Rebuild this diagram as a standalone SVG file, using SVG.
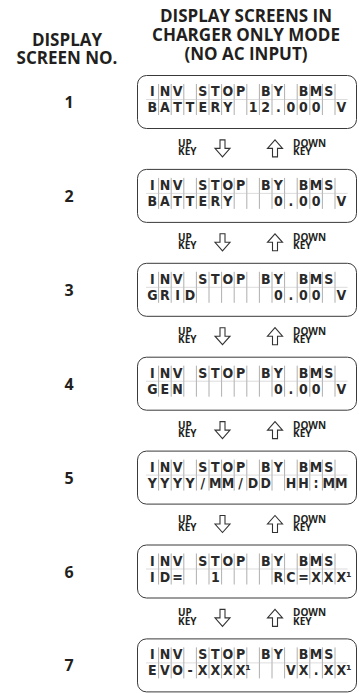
<svg xmlns="http://www.w3.org/2000/svg" xmlns:xlink="http://www.w3.org/1999/xlink" width="359" height="693" viewBox="0 0 359 693">
<style>
.hdr{font-family:"Open Sans","Liberation Sans",sans-serif;font-weight:bold;font-size:17px;fill:#231f20;text-anchor:middle}
.num{font-family:"Open Sans","Liberation Sans",sans-serif;font-weight:bold;font-size:16px;fill:#231f20;text-anchor:middle}
.lcd{font-family:"Liberation Sans Narrow","DejaVu Sans Condensed","Liberation Sans",sans-serif;font-weight:bold;font-size:14px;fill:#2a2a2a;text-anchor:middle}
.key{font-family:"Open Sans","Liberation Sans",sans-serif;font-weight:bold;font-size:10px;fill:#231f20}
.frame{fill:none;stroke:#3a3a3a;stroke-width:1}
.grid{fill:none;stroke:#9a9a9a;stroke-width:0.8}
.hline{fill:none;stroke:#c4c4c4;stroke-width:0.6}
.arr{fill:#fff;stroke:#333;stroke-width:1.1;stroke-linejoin:miter}
</style>
<defs>
<g id="lcd">
<rect class="frame" x="137.5" y="0.5" width="219" height="53" rx="9"/>
<path class="grid" d="M158.6 9V40M171.2 9V40M183.8 9V40M196.4 9V40M209 9V40M221.6 9V40M234.2 9V40M246.8 9V40M259.4 9V40M272 9V40M284.6 9V40M297.2 9V40M309.8 9V40M322.4 9V40M335 9V40"/>
<path class="hline" d="M146 24.5H347.6"/>
</g>
<path id="dn" class="arr" d="M-2.5 -8.5H2.5V0H7.5L0 8.5L-7.5 0H-2.5Z"/>
<path id="upa" class="arr" d="M-2.5 8.5H2.5V0H7.5L0 -8.5L-7.5 0H-2.5Z"/>
</defs>

<g id="header">
<text class="hdr" x="67" y="46">DISPLAY</text>
<text class="hdr" x="67" y="64">SCREEN NO.</text>
<text class="hdr" x="246" y="22">DISPLAY SCREENS IN</text>
<text class="hdr" x="246" y="41">CHARGER ONLY MODE</text>
<text class="hdr" x="246" y="60">(NO AC INPUT)</text>
</g>

<g id="screen1">
<text class="num" x="69" y="108">1</text>
<use xlink:href="#lcd" href="#lcd" y="75"/>
<text class="lcd" y="96" x="152.3 164.9 177.5 190.1 202.7 215.3 227.9 240.5 253.1 265.7 278.3 290.9 303.5 316.1 328.7">INV STOP BY BMS</text>
<text class="lcd" y="112" x="152.3 164.9 177.5 190.1 202.7 215.3 227.9 240.5 253.1 265.7 278.3 290.9 303.5 316.1 328.7 341.3">BATTERY 12.000 V</text>
</g>

<g id="screen2">
<text class="num" x="69" y="201.9">2</text>
<use xlink:href="#lcd" href="#lcd" y="168.9"/>
<text class="lcd" y="189.9" x="152.3 164.9 177.5 190.1 202.7 215.3 227.9 240.5 253.1 265.7 278.3 290.9 303.5 316.1 328.7">INV STOP BY BMS</text>
<text class="lcd" y="205.9" x="152.3 164.9 177.5 190.1 202.7 215.3 227.9">BATTERY</text>
<text class="lcd" y="205.9" x="278.3 290.9 303.5 316.1">0.00</text>
<text class="lcd" y="205.9" x="341.3">V</text>
</g>

<g id="screen3">
<text class="num" x="69" y="295.8">3</text>
<use xlink:href="#lcd" href="#lcd" y="262.8"/>
<text class="lcd" y="283.8" x="152.3 164.9 177.5 190.1 202.7 215.3 227.9 240.5 253.1 265.7 278.3 290.9 303.5 316.1 328.7">INV STOP BY BMS</text>
<text class="lcd" y="299.8" x="152.3 164.9 177.5 190.1">GRID</text>
<text class="lcd" y="299.8" x="278.3 290.9 303.5 316.1">0.00</text>
<text class="lcd" y="299.8" x="341.3">V</text>
</g>

<g id="screen4">
<text class="num" x="69" y="389.7">4</text>
<use xlink:href="#lcd" href="#lcd" y="356.7"/>
<text class="lcd" y="377.7" x="152.3 164.9 177.5 190.1 202.7 215.3 227.9 240.5 253.1 265.7 278.3 290.9 303.5 316.1 328.7">INV STOP BY BMS</text>
<text class="lcd" y="393.7" x="152.3 164.9 177.5">GEN</text>
<text class="lcd" y="393.7" x="278.3 290.9 303.5 316.1">0.00</text>
<text class="lcd" y="393.7" x="341.3">V</text>
</g>

<g id="screen5">
<text class="num" x="69" y="483.6">5</text>
<use xlink:href="#lcd" href="#lcd" y="450.6"/>
<text class="lcd" y="471.6" x="152.3 164.9 177.5 190.1 202.7 215.3 227.9 240.5 253.1 265.7 278.3 290.9 303.5 316.1 328.7">INV STOP BY BMS</text>
<text class="lcd" y="487.6" x="152.3 164.9 177.5 190.1 202.7 215.3 227.9 240.5 253.1 265.7 278.3 290.9 303.5 316.1 328.7 341.3">YYYY/MM/DD HH:MM</text>
</g>

<g id="screen6">
<text class="num" x="69" y="577.5">6</text>
<use xlink:href="#lcd" href="#lcd" y="544.5"/>
<text class="lcd" y="565.5" x="152.3 164.9 177.5 190.1 202.7 215.3 227.9 240.5 253.1 265.7 278.3 290.9 303.5 316.1 328.7">INV STOP BY BMS</text>
<text class="lcd" y="581.5" x="152.3 164.9 177.5">ID=</text>
<text class="lcd" y="581.5" x="215.3">1</text>
<text class="lcd" y="581.5" x="278.3 290.9 303.5 316.1 328.7 341.3 348.8">RC=XXX¹</text>
</g>

<g id="screen7">
<text class="num" x="69" y="671.4">7</text>
<use xlink:href="#lcd" href="#lcd" y="638.4"/>
<text class="lcd" y="659.4" x="152.3 164.9 177.5 190.1 202.7 215.3 227.9 240.5 253.1 265.7 278.3 290.9 303.5 316.1 328.7">INV STOP BY BMS</text>
<text class="lcd" y="675.4" x="152.3 164.9 177.5 190.1 202.7 215.3 227.9 240.5 248">EVO-XXXX¹</text>
<text class="lcd" y="675.4" x="290.9 303.5 316.1 328.7 341.3 348.8">VX.XX¹</text>
</g>

<g id="connectors">
<g transform="translate(0,148.4)">
<text class="key" x="178" y="-1.5">UP<tspan x="178" dy="8.5">KEY</tspan></text>
<use xlink:href="#dn" href="#dn" x="222.5"/><use xlink:href="#upa" href="#upa" x="275"/>
<text class="key" x="293" y="-1.5">DOWN<tspan x="293" dy="8.5">KEY</tspan></text>
</g>
<g transform="translate(0,242.3)">
<text class="key" x="178" y="-1.5">UP<tspan x="178" dy="8.5">KEY</tspan></text>
<use xlink:href="#dn" href="#dn" x="222.5"/><use xlink:href="#upa" href="#upa" x="275"/>
<text class="key" x="293" y="-1.5">DOWN<tspan x="293" dy="8.5">KEY</tspan></text>
</g>
<g transform="translate(0,336.2)">
<text class="key" x="178" y="-1.5">UP<tspan x="178" dy="8.5">KEY</tspan></text>
<use xlink:href="#dn" href="#dn" x="222.5"/><use xlink:href="#upa" href="#upa" x="275"/>
<text class="key" x="293" y="-1.5">DOWN<tspan x="293" dy="8.5">KEY</tspan></text>
</g>
<g transform="translate(0,430.1)">
<text class="key" x="178" y="-1.5">UP<tspan x="178" dy="8.5">KEY</tspan></text>
<use xlink:href="#dn" href="#dn" x="222.5"/><use xlink:href="#upa" href="#upa" x="275"/>
<text class="key" x="293" y="-1.5">DOWN<tspan x="293" dy="8.5">KEY</tspan></text>
</g>
<g transform="translate(0,524)">
<text class="key" x="178" y="-1.5">UP<tspan x="178" dy="8.5">KEY</tspan></text>
<use xlink:href="#dn" href="#dn" x="222.5"/><use xlink:href="#upa" href="#upa" x="275"/>
<text class="key" x="293" y="-1.5">DOWN<tspan x="293" dy="8.5">KEY</tspan></text>
</g>
<g transform="translate(0,617.9)">
<text class="key" x="178" y="-1.5">UP<tspan x="178" dy="8.5">KEY</tspan></text>
<use xlink:href="#dn" href="#dn" x="222.5"/><use xlink:href="#upa" href="#upa" x="275"/>
<text class="key" x="293" y="-1.5">DOWN<tspan x="293" dy="8.5">KEY</tspan></text>
</g>
</g>
</svg>
